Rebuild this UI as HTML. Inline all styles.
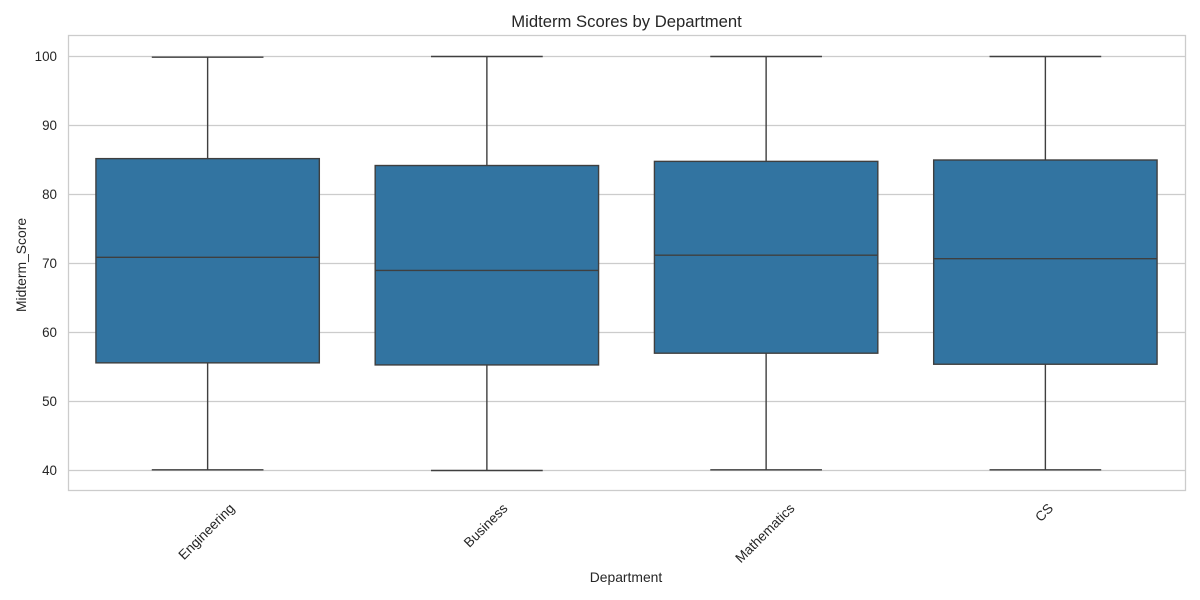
<!DOCTYPE html>
<html lang="en">
<head>
<meta charset="utf-8">
<title>Midterm Scores by Department</title>
<style>
html,body{margin:0;padding:0;background:#fff;width:1200px;height:600px;overflow:hidden}
svg{display:block}
text{font-family:"Liberation Sans",Arial,sans-serif;fill:#262626}
</style>
</head>
<body>
<svg id="chart" xmlns="http://www.w3.org/2000/svg" width="1200" height="600" viewBox="0 0 1200 600">
<text x="626.5" y="27" text-anchor="middle" font-size="16.67">Midterm Scores by Department</text>
<text x="626" y="582" text-anchor="middle" font-size="13.89">Department</text>
<text transform="translate(26,265) rotate(-90)" text-anchor="middle" font-size="13.89">Midterm_Score</text>
<g id="grid"></g>
<g id="boxes"></g>
<g id="ticks"></g>
<rect x="68.5" y="35.5" width="1117" height="455" fill="none" stroke="#cccccc" stroke-width="1.3"></rect>
</svg>
<script>
const categories = ['Engineering', 'Business', 'Mathematics', 'CS'];
const whiskerLow = [40.1, 40, 40.1, 40.1];
const q1 = [55.6, 55.3, 57, 55.4];
const median = [70.9, 69, 71.2, 70.7];
const q3 = [85.2, 84.2, 84.8, 85];
const whiskerHigh = [99.9, 100, 100, 100];
const yTicks = [40, 50, 60, 70, 80, 90, 100];

const NS = 'http://www.w3.org/2000/svg';
const plotLeft = 68.5, plotRight = 1185.5;
const boxColor = '#3274a1', lineColor = '#3f3f3f', lineWidth = 1.4;

function xScale(i) {
  return 68 + (i + 0.5) * (1185 - 68) / categories.length;
}
function bandWidth() {
  return (1185 - 68) / categories.length;
}
function yScale(v) {
  return 470.5 - (v - 40) * (414 / 60);
}
function make(tag, attrs, parent) {
  const el = document.createElementNS(NS, tag);
  for (const k in attrs) el.setAttribute(k, attrs[k]);
  parent.appendChild(el);
  return el;
}
function line(x1, y1, x2, y2, stroke, width, parent) {
  return make('line', { x1: x1, y1: y1, x2: x2, y2: y2, stroke: stroke, 'stroke-width': width }, parent);
}

const gridGroup = document.getElementById('grid');
const tickGroup = document.getElementById('ticks');
const boxGroup = document.getElementById('boxes');

yTicks.forEach(function (t) {
  const g = line(plotLeft, yScale(t), plotRight, yScale(t), '#cccccc', 1.3, gridGroup);
  
  
  const label = make('text', { x: 57, y: yScale(t) + 4.6, 'text-anchor': 'end', 'font-size': 13.4 }, tickGroup);
  label.textContent = t;
  
  
});

categories.forEach(function (name, i) {
  const cx = xScale(i), band = bandWidth();
  const slug = name.toLowerCase();
  const halfBox = band * 0.4, halfCap = band * 0.2;

  const group = make('g', {}, boxGroup);
  
  

  const lowerWhisker = line(cx, yScale(q1[i]), cx, yScale(whiskerLow[i]), lineColor, lineWidth, group);
  
  

  const upperWhisker = line(cx, yScale(q3[i]), cx, yScale(whiskerHigh[i]), lineColor, lineWidth, group);
  
  

  const lowerCap = line(cx - halfCap, yScale(whiskerLow[i]), cx + halfCap, yScale(whiskerLow[i]), lineColor, lineWidth, group);
  
  

  const upperCap = line(cx - halfCap, yScale(whiskerHigh[i]), cx + halfCap, yScale(whiskerHigh[i]), lineColor, lineWidth, group);
  
  

  const rect = make('rect', {
    x: cx - halfBox,
    y: yScale(q3[i]),
    width: halfBox * 2,
    height: yScale(q1[i]) - yScale(q3[i]),
    fill: boxColor,
    stroke: lineColor,
    'stroke-width': lineWidth
  }, group);
  
  

  const med = line(cx - halfBox, yScale(median[i]), cx + halfBox, yScale(median[i]), lineColor, lineWidth, group);
  
  

  const label = make('text', {
    'text-anchor': 'middle',
    'font-size': 13.6,
    y: 5
  }, tickGroup);
  label.textContent = name;
  
  
  /* rotated label hangs from the tick: its bounding box top sits at a fixed y */
  const labelLength = label.getComputedTextLength();
  const labelCenterY = 501 + (labelLength + 13) * Math.SQRT1_2 / 2;
  label.setAttribute('transform', 'translate(' + (cx - 1.5) + ',' + labelCenterY + ') rotate(-45)');
});
</script>
</body>
</html>
